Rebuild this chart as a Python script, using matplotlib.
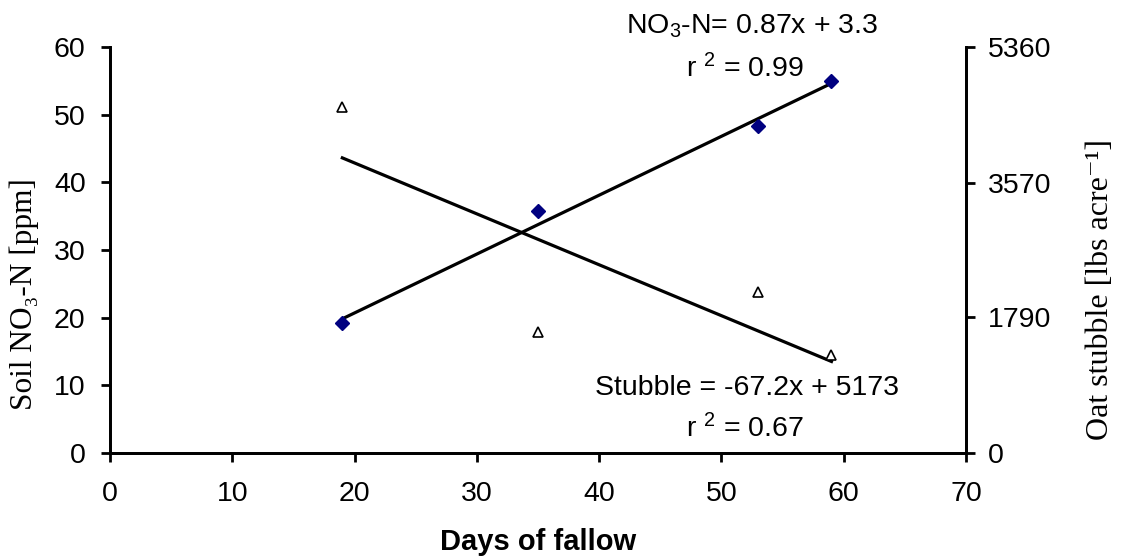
import matplotlib
matplotlib.use("Agg")
import matplotlib.pyplot as plt
import numpy as np

days = [19, 35, 53, 59]
no3_ppm = [19.2, 35.7, 48.3, 55.0]
stubble = [4566, 1593, 2120, 1293]
x_ticks = [0, 10, 20, 30, 40, 50, 60, 70]
left_ticks = [0, 10, 20, 30, 40, 50, 60]
right_ticks = [0, 1790, 3570, 5360]
no3_fit = (0.87, 3.3)
stub_fit = (-67.2, 5173)

plt.rcParams['font.family'] = ['Liberation Sans', 'DejaVu Sans']
plt.rcParams['mathtext.fontset'] = 'custom'
plt.rcParams['mathtext.rm'] = 'Liberation Sans'
plt.rcParams['mathtext.it'] = 'Liberation Sans:italic'
plt.rcParams['mathtext.bf'] = 'Liberation Sans:bold'

W, H = 1121, 559
fig = plt.figure(figsize=(W/100, H/100), dpi=100)
L, R, T, B = 110, 966, 47, 453
ax = fig.add_axes([L/W, 1-B/H, (R-L)/W, (B-T)/H])
ax2 = ax.twinx()

FS = 20.5
for a in (ax, ax2):
    a.spines['top'].set_visible(False)
    for s in a.spines.values():
        s.set_linewidth(2)
ax.tick_params(axis='x', width=2, length=6.5, labelsize=FS, direction='out', pad=14)
ax.tick_params(axis='y', width=2, length=6.5, labelsize=FS, direction='out', pad=11)
ax2.tick_params(axis='y', width=2, length=6.5, labelsize=FS, direction='out', pad=9.5)

ax.set_xlim(0, 70)
ax.set_ylim(0, 60)
ax2.set_ylim(0, 5360)
ax.set_xticks(x_ticks)
ax.set_yticks(left_ticks)
ax2.set_yticks(right_ticks)

xf = np.array([min(days), max(days)])
ax.plot(xf, no3_fit[0]*xf + no3_fit[1], color='black', lw=2.3, zorder=2)
ax2.plot(xf, stub_fit[0]*xf + stub_fit[1], color='black', lw=2.3, zorder=2)
ax.plot(days, no3_ppm, ls='none', marker='D', ms=7.5, mew=1, color='#000080', zorder=3)
ax2.plot(days, stubble, ls='none', marker='^', ms=7.5, mfc='white', mec='black', mew=1.2, zorder=3)

fig.text(538/W, 1-528/H, 'Days of fallow', fontsize=21, fontweight='bold', ha='center', va='top')
fig.text(24/W, 1-294/H, 'Soil NO\u2083-N [ppm]', fontsize=22.5, rotation=90,
         family=['Liberation Serif', 'DejaVu Serif'], ha='center', va='center')
fig.text(1100/W, 1-290/H, 'Oat stubble [lbs acre\u207b\u00b9]', fontsize=23, rotation=90,
         family=['Liberation Serif', 'DejaVu Serif'], ha='center', va='center')

fig.text(752/W, 1-33/H, 'NO$_3$-N= 0.87x + 3.3', fontsize=FS, ha='center', va='baseline')
fig.text(745/W, 1-77/H, 'r $^{2}$ = 0.99', fontsize=FS, ha='center', va='baseline')
fig.text(747/W, 1-395/H, 'Stubble = -67.2x + 5173', fontsize=FS, ha='center', va='baseline')
fig.text(745/W, 1-437/H, 'r $^{2}$ = 0.67', fontsize=FS, ha='center', va='baseline')

fig.savefig('out.png', dpi=100)
